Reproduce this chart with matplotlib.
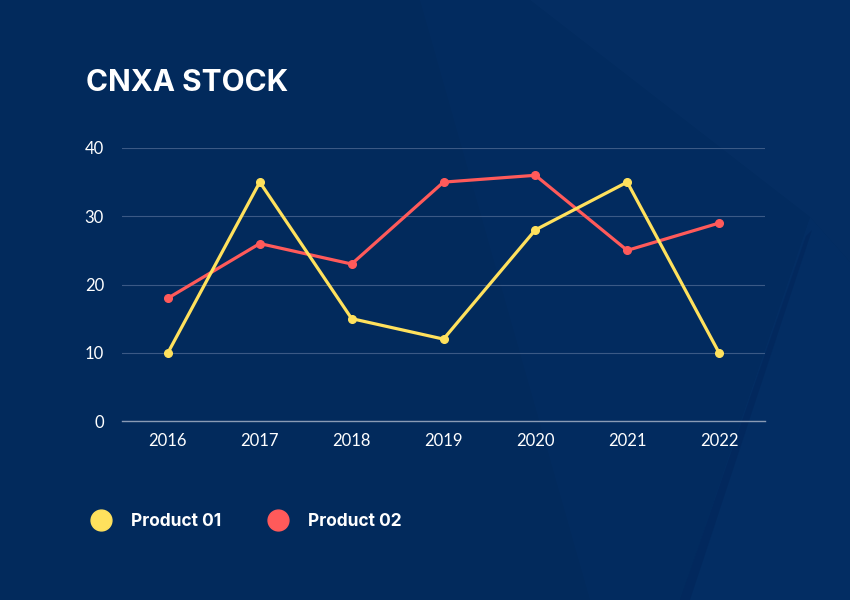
import matplotlib.pyplot as plt
from matplotlib.patches import Polygon
from matplotlib.lines import Line2D

years = ["2016", "2017", "2018", "2019", "2020", "2021", "2022"]
product_01 = [10, 35, 15, 12, 28, 35, 10]
product_02 = [18, 26, 23, 35, 36, 25, 29]
series_names = ["Product 01", "Product 02"]

bg = "#022a5c"
yellow = "#ffe15d"
red = "#ff5a5a"

fig = plt.figure(figsize=(8.5, 6), dpi=100, facecolor=bg)

# faint background shapes (pixel coords -> figure fraction)
def px(pts):
    return [(x / 850, 1 - y / 600) for x, y in pts]

shapes = [
    (px([(420, 0), (530, 0), (810, 217), (680, 600), (590, 600)]), "#04306a", 0.25),
    (px([(530, 0), (850, 0), (850, 262), (810, 217)]), "#052f65", 0.7),
    (px([(810, 217), (850, 262), (850, 600), (680, 600)]), "#042f66", 0.7),
    (px([(806, 236), (812, 230), (690, 600), (680, 600)]), "#012052", 0.35),
]
for pts, c, a in shapes:
    fig.add_artist(Polygon(pts, closed=True, facecolor=c, edgecolor="none",
                           alpha=a, transform=fig.transFigure, zorder=0))

ax = fig.add_axes([122 / 850, 1 - 421 / 600, (765 - 122) / 850, (421 - 148) / 600])
ax.set_facecolor("none")

x = range(len(years))
ax.plot(x, product_02, color=red, lw=2.3, marker="o", ms=5.5, zorder=3)
ax.plot(x, product_01, color=yellow, lw=2.3, marker="o", ms=5.5, zorder=4)

ax.set_xlim(-0.5, 6.5)
ax.set_ylim(0, 40)
ax.set_yticks([0, 10, 20, 30, 40])
ax.set_xticks(list(x))
ax.set_xticklabels(years)
ax.grid(axis="y", color="#4a6690", lw=0.8, alpha=0.8)
ax.set_axisbelow(True)
for s in ["top", "right", "left"]:
    ax.spines[s].set_visible(False)
ax.spines["bottom"].set_color("#8a9bb5")
ax.spines["bottom"].set_linewidth(1)
ax.tick_params(length=0, colors="white", labelsize=12, pad=9)
ax.tick_params(axis="y", pad=13)
for lab in ax.get_xticklabels() + ax.get_yticklabels():
    lab.set_family("Lato")

fig.text(86 / 850, 1 - 91 / 600, "CNXA STOCK", color="white", fontsize=21.5,
         fontweight="bold", family="Inter", va="baseline")

handles = [
    Line2D([], [], ls="none", marker="o", ms=15, color=yellow),
    Line2D([], [], ls="none", marker="o", ms=15, color=red),
]
leg = fig.legend(handles, series_names, loc="center left",
                 bbox_to_anchor=(75 / 850, 1 - 522 / 600), ncol=2, frameon=False,
                 handletextpad=1.1, columnspacing=2.7, handlelength=1.2,
                 prop={"family": "Inter", "weight": "bold", "size": 12.5})
for t in leg.get_texts():
    t.set_color("white")

fig.savefig("out.png", dpi=100, facecolor=bg)
